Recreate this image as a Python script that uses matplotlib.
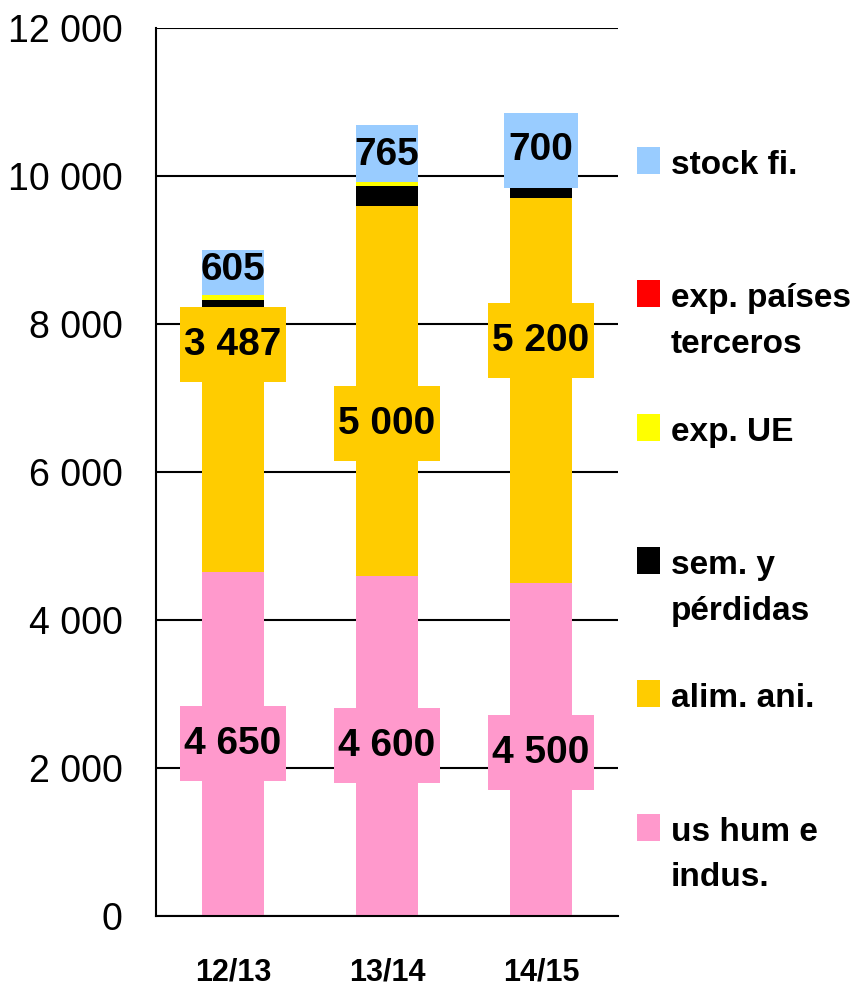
import matplotlib
matplotlib.use('Agg')
import matplotlib.pyplot as plt
from matplotlib.patches import Rectangle
from matplotlib.ticker import FuncFormatter, MultipleLocator
import numpy as np

FUENTE = 'Liberation Sans'

# datos
campanas = ['12/13', '13/14', '14/15']
us_hum = [4650, 4600, 4500]
alim_ani = [3487, 5000, 5200]
sem_perdidas = [190, 270, 160]
exp_ue = [68, 50, 0]
exp_terceros = [0, 0, 0]
stock_fi = [605, 765, 700]

series = [
    ('us hum e\nindus.', us_hum, '#FF99CC'),
    ('alim. ani.', alim_ani, '#FFCC00'),
    ('sem. y\npérdidas', sem_perdidas, '#000000'),
    ('exp. UE', exp_ue, '#FFFF00'),
    ('exp. países\nterceros', exp_terceros, '#FF0000'),
    ('stock fi.', stock_fi, '#99CCFF'),
]

# posición relativa de las etiquetas dentro de cada segmento
pos_us = [0.50, 0.50, 0.49]
pos_alim = [0.88, 0.41, 0.63]
pos_stock = [0.55, 0.48, 0.70]
caja_stock = [False, False, True]

W, H = 865, 988
fig = plt.figure(figsize=(W / 100, H / 100), dpi=100, facecolor='white')
ax = fig.add_axes([156 / W, 72 / H, 462 / W, 888 / H])

x = np.arange(len(campanas))
bottom = np.zeros(len(campanas))
bottoms = {}
for label, vals, color in series:
    bottoms[label] = bottom.copy()
    ax.bar(x, vals, width=0.4, bottom=bottom, color=color, linewidth=0, zorder=2)
    bottom = bottom + np.array(vals)

ax.set_xlim(-0.5, 2.5)
ax.set_ylim(0, 12000)
ax.yaxis.set_major_locator(MultipleLocator(2000))
ax.yaxis.set_major_formatter(FuncFormatter(lambda v, p: f'{int(v):,}'.replace(',', ' ')))
ax.grid(axis='y', color='black', linewidth=1.5, zorder=0)
ax.set_axisbelow(True)
for s in ['top', 'right']:
    ax.spines[s].set_visible(False)
for s in ['left', 'bottom']:
    ax.spines[s].set_linewidth(1.5)
    ax.spines[s].set_color('black')
ax.set_xticks(x)
ax.set_xticklabels(campanas, fontfamily=FUENTE, fontweight='bold', fontsize=22)
ax.tick_params(axis='x', length=0, pad=30)
ax.tick_params(axis='y', length=0, pad=24, labelsize=27)
for t in ax.get_yticklabels():
    t.set_fontfamily(FUENTE)


def fmt(v):
    return f'{int(v):,}'.replace(',', ' ')


# etiquetas de datos
etiquetas = []
for i in range(len(campanas)):
    yb = bottoms['us hum e\nindus.'][i]
    t = ax.text(x[i], yb + us_hum[i] * pos_us[i], fmt(us_hum[i]), ha='center', va='center',
                fontsize=28, fontweight='bold', fontfamily=FUENTE, zorder=5)
    etiquetas.append((t, '#FF99CC'))
    yb = bottoms['alim. ani.'][i]
    t = ax.text(x[i], yb + alim_ani[i] * pos_alim[i], fmt(alim_ani[i]), ha='center', va='center',
                fontsize=28, fontweight='bold', fontfamily=FUENTE, zorder=5)
    etiquetas.append((t, '#FFCC00'))
    yb = bottoms['stock fi.'][i]
    t = ax.text(x[i], yb + stock_fi[i] * pos_stock[i], fmt(stock_fi[i]), ha='center', va='center',
                fontsize=28, fontweight='bold', fontfamily=FUENTE, zorder=5)
    if caja_stock[i]:
        etiquetas.append((t, '#99CCFF'))

# cajas de color detrás de las etiquetas (ancho del texto + margen, 75 px de alto)
fig.canvas.draw()
renderer = fig.canvas.get_renderer()
inv = ax.transData.inverted()
for t, color in etiquetas:
    bb = t.get_window_extent(renderer)
    cx, cy = ax.transData.transform(t.get_position())
    w = bb.width + 9
    h = 75
    (x0, y0) = inv.transform((cx - w / 2, cy - h / 2))
    (x1, y1) = inv.transform((cx + w / 2, cy + h / 2))
    ax.add_patch(Rectangle((x0, y0), x1 - x0, y1 - y0, facecolor=color,
                           edgecolor='none', zorder=4, clip_on=False))

# leyenda
leyenda = list(reversed(series))
for k, (label, vals, color) in enumerate(leyenda):
    yc = 160.5 + k * 133.3
    fig.add_artist(Rectangle((637 / W, 1 - (yc + 13.5) / H), 23 / W, 27 / H,
                             transform=fig.transFigure, facecolor=color, edgecolor='none'))
    for j, linea in enumerate(label.split('\n')):
        yb = yc + 13.5 + j * 45.6
        fig.text(671 / W, 1 - yb / H, linea, ha='left', va='baseline',
                 fontsize=24, fontweight='bold', fontfamily=FUENTE)

fig.savefig('out.png', dpi=100, facecolor='white')
